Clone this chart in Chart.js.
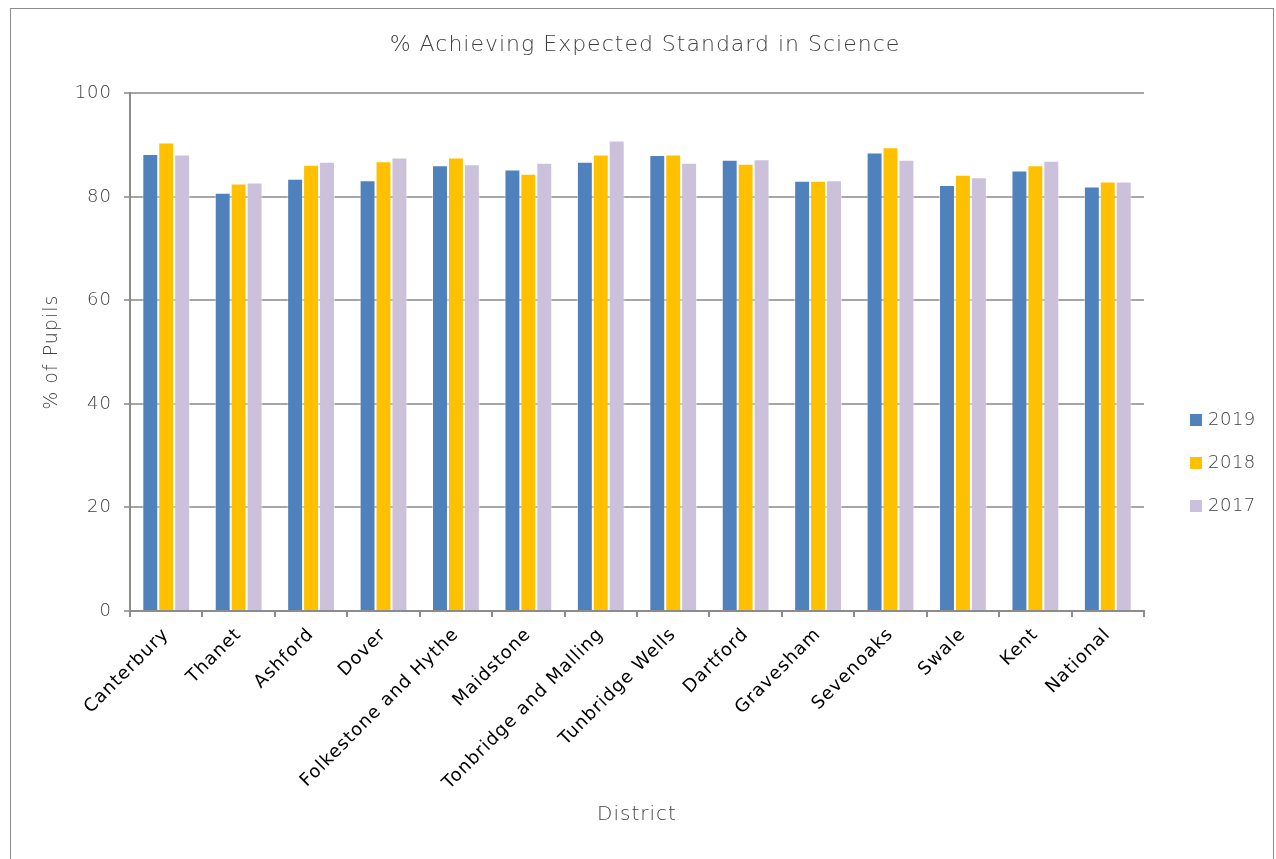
<!DOCTYPE html>
<html>
<head>
<meta charset="utf-8">
<script src="https://cdn.jsdelivr.net/npm/chart.js@4"></script>
<style>
  html, body { margin:0; padding:0; background:#fff; overflow:hidden; }
  #frame { position:absolute; left:10px; top:8px; width:1264px; height:900px; border:1px solid #8c8c8c; box-sizing:border-box; }
  #chart { position:absolute; left:11px; top:9px; }
  #legend { position:absolute; left:1190px; top:408px; font-family:"DejaVu Sans", sans-serif; font-weight:200; font-size:18px; letter-spacing:0.5px; color:#404040; }
  #legend div { height:43px; display:flex; align-items:flex-start; }
  #legend span.box { display:inline-block; width:12px; height:12px; margin:6px 6px 0 0; }
</style>
</head>
<body>
<div id="frame"></div>
<canvas id="chart" width="1260" height="850"></canvas>
<div id="legend"></div>
<script>
// districts + yearly results
const districts = ['Canterbury', 'Thanet', 'Ashford', 'Dover', 'Folkestone and Hythe', 'Maidstone',
  'Tonbridge and Malling', 'Tunbridge Wells', 'Dartford', 'Gravesham', 'Sevenoaks', 'Swale', 'Kent', 'National'];
const y2019 = [88.3, 80.8, 83.5, 83.2, 86.1, 85.3, 86.8, 88.1, 87.2, 83.1, 88.6, 82.3, 85.1, 82.0];
const y2018 = [90.5, 82.6, 86.2, 86.9, 87.6, 84.5, 88.2, 88.2, 86.4, 83.1, 89.6, 84.3, 86.1, 83.0];
const y2017 = [88.2, 82.8, 86.8, 87.6, 86.3, 86.6, 90.9, 86.6, 87.3, 83.2, 87.2, 83.8, 87.0, 83.0];
const yTicks = [0, 20, 40, 60, 80, 100];

const thin = '"DejaVu Sans", sans-serif';

const datasets = [
  { label: '2019', data: y2019, backgroundColor: '#4f81bd' },
  { label: '2018', data: y2018, backgroundColor: '#ffc000' },
  { label: '2017', data: y2017, backgroundColor: '#ccc1da' }
].map(d => Object.assign(d, { borderColor: 'rgba(255,255,255,0.5)', borderWidth: 1,
  categoryPercentage: 0.66, barPercentage: 1.0 }));

// the original text is a little spaced out
const spacing = {
  id: 'spacing',
  beforeUpdate: c => { c.ctx.letterSpacing = '1px'; },
  beforeDraw: c => { c.ctx.letterSpacing = '1px'; }
};

const chart = new Chart(document.getElementById('chart').getContext('2d'), {
  type: 'bar',
  data: { labels: districts, datasets },
  plugins: [spacing],
  options: {
    responsive: false,
    animation: false,
    layout: { padding: { left: 8, right: 0, top: 0, bottom: 0 } },
    plugins: {
      legend: { display: false },
      tooltip: { enabled: false },
      title: {
        display: true,
        text: '% Achieving Expected Standard in Science',
        color: '#404040',
        font: { family: thin, size: 22, weight: 200 },
        padding: { top: 23, bottom: 35 }
      }
    },
    scales: {
      x: {
        afterFit: s => { s.height = 248; },
        grid: { drawOnChartArea: false, drawTicks: true, tickLength: 6, color: '#8c8c8c', lineWidth: 2 },
        border: { color: '#8c8c8c', width: 2 },
        ticks: { color: '#000', font: { family: '"DejaVu Sans", Verdana, sans-serif', size: 18 },
          minRotation: 45, maxRotation: 45, padding: 7 },
        title: { display: true, text: 'District', color: '#404040',
          font: { family: thin, size: 20, weight: 200 }, padding: { top: 0, bottom: 32 } }
      },
      y: {
        min: 0, max: 100,
        afterFit: s => { s.width = 111; },
        afterBuildTicks: s => { s.ticks = yTicks.map(v => ({ value: v })); },
        grid: { color: '#a6a6a6', lineWidth: 2, tickLength: 6 },
        border: { color: '#8c8c8c', width: 2 },
        ticks: { color: '#404040', font: { family: thin, size: 18, weight: 200 }, padding: 12 },
        title: { display: true, text: '% of Pupils', color: '#404040',
          font: { family: thin, size: 19, weight: 200 }, padding: { top: 22, bottom: 0 } }
      },
      // empty right-hand axis keeps room for the legend without shifting the title
      yRight: {
        position: 'right',
        afterFit: s => { s.width = 127; },
        grid: { drawOnChartArea: false, drawTicks: false },
        border: { display: false },
        ticks: { display: false }
      }
    }
  }
});

// legend as real text
const legendEl = document.getElementById('legend');
datasets.forEach(d => {
  const row = document.createElement('div');
  row.innerHTML = `<span class="box" style="background:${d.backgroundColor}"></span>${d.label}`;
  legendEl.appendChild(row);
});
</script>
</body>
</html>
